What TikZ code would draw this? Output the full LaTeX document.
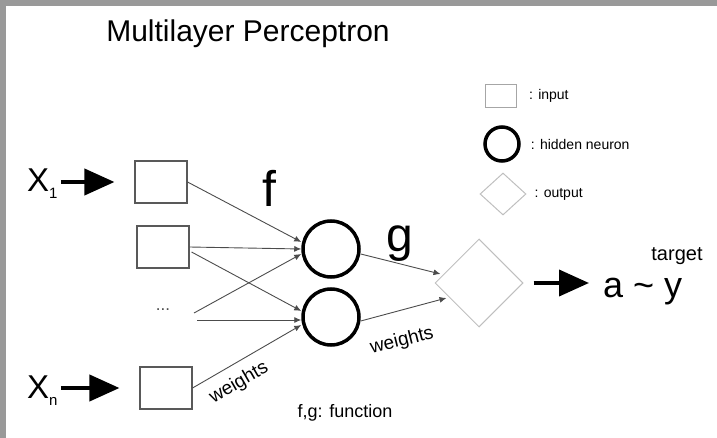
\documentclass[tikz,border=0pt]{standalone}
\usepackage{fontspec}
\setmainfont{Liberation Sans}
\usepackage{tikz}
\usetikzlibrary{arrows.meta,calc,positioning,shapes.geometric}

\begin{document}
\begin{tikzpicture}[x=1pt,y=-1pt,
  inbox/.style={draw=black!65,line width=1.1pt,minimum width=52pt,minimum height=42pt,inner sep=0pt},
  hidden/.style={circle,draw,line width=3.5pt,minimum size=56pt,inner sep=0pt},
  outdia/.style={diamond,draw=black!25,line width=1pt,minimum width=88pt,minimum height=88pt,inner sep=0pt},
  wire/.style={draw=black!70,line width=0.9pt,-{Latex[length=7pt,width=6pt]}},
  bigarrow/.style={line width=4pt,-{Triangle[length=30pt,width=26pt]}},
  lbl/.style={inner sep=0pt},
  legtext/.style={inner sep=0pt,font=\fontsize{14}{14}\selectfont}]
\useasboundingbox (0,0) rectangle (717,438);
\fill[black!40] (0,0) rectangle (717,6);
\fill[black!40] (0,0) rectangle (6,438);
\node[lbl,anchor=base,font=\fontsize{30}{30}\selectfont] (title) at (248,42) {Multilayer Perceptron};
\node[inbox] (in1) at (161,182) {};
\node[inbox] (in2) at (163,247) {};
\node[lbl,font=\fontsize{17}{17}\selectfont,text=black!70] (dots) at (163,310) {...};
\node[inbox] (inn) at (166,388) {};
\coordinate (d1) at (194,313);
\coordinate (d2) at (197,320);
\node[lbl,anchor=base west,font=\fontsize{33}{33}\selectfont] (x1) at (27,192) {X\raisebox{-7pt}{\fontsize{15}{15}\selectfont 1}};
\node[lbl,anchor=base west,font=\fontsize{33}{33}\selectfont] (xn) at (27,398) {X\raisebox{-7pt}{\fontsize{15}{15}\selectfont n}};
\draw[bigarrow,shorten <=3pt,shorten >=20pt] (x1.east |- in1) -- (in1.west);
\draw[bigarrow,shorten <=3pt,shorten >=20pt] (xn.east |- inn) -- (inn.west);
\node[hidden] (h1) at (331,249) {};
\node[hidden] (h2) at (331,317) {};
\node[outdia] (out) at (479,283) {};
\draw[wire] (in1.east) -- ($(h1.west)+(0,-7)$);
\draw[wire] (in2.east) -- (h1.west);
\draw[wire] ($(in2.east)+(2,5)$) -- ($(h2.west)+(0,-6)$);
\draw[wire] (d1) -- ($(h1.west)+(0,5)$);
\draw[wire] (d2) -- ($(h2.west)+(0,3)$);
\draw[wire] (inn.east) -- ($(h2.west)+(0,8)$);
\draw[wire] ($(h1.east)+(0,5)$) -- ($(out.west)+(6,-9)$);
\draw[wire] ($(h2.east)+(0,4)$) -- ($(out.west)+(12,15)$);
\node[lbl,anchor=base,font=\fontsize{50}{50}\selectfont] (flbl) at (269,207) {f};
\node[lbl,anchor=base,font=\fontsize{48}{48}\selectfont] (glbl) at (400,252) {g};
\node[lbl,anchor=base west,font=\fontsize{36}{36}\selectfont] (ay) at (603,298) {a \textasciitilde{} y};
\node[lbl,font=\fontsize{20}{20}\selectfont] (target) at (677,256) {target};
\draw[bigarrow,shorten <=10pt,shorten >=14pt] (out.east) -- (ay.west |- out.east);
\node[lbl,rotate=30,font=\fontsize{19}{19}\selectfont] (w1) at (239,383) {weights};
\node[lbl,rotate=14,font=\fontsize{19}{19}\selectfont] (w2) at (402,341) {weights};
\node[lbl,font=\fontsize{18}{18}\selectfont] (fg) at (345,413) {f,g: function};
\node[draw=black!35,line width=1pt,minimum width=31pt,minimum height=23pt,inner sep=0pt] (leginput) at (501,96) {};
\node[circle,draw,line width=3.5pt,minimum size=34pt,inner sep=0pt] (leghidden) at (502,144) {};
\node[diamond,draw=black!25,line width=1pt,minimum width=46pt,minimum height=42pt,inner sep=0pt] (legoutput) at (503,194) {};
\node[legtext,right=12pt of leginput] {: input};
\node[legtext,right=10pt of leghidden] {: hidden neuron};
\node[legtext,right=8pt of legoutput] {: output};
\end{tikzpicture}
\end{document}
